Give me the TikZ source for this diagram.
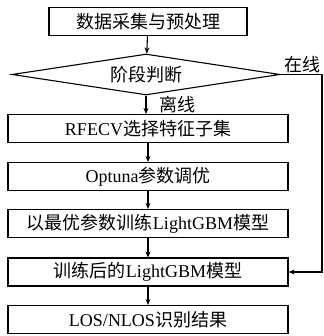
\documentclass[tikz,border=0pt]{standalone}
\usepackage{fontspec}
\setmainfont{Liberation Serif}
\newfontfamily\cjk{Noto Sans CJK SC}
\newcommand{\zh}[1]{{\cjk #1}}
\usetikzlibrary{shapes.geometric, arrows.meta}

\begin{document}
\begin{tikzpicture}[x=1pt, y=1pt,
  every node/.style={font=\fontsize{18}{20}\selectfont},
  stage/.style={rectangle, draw, line width=1.1pt, minimum height=28pt, inner sep=0pt},
  decide/.style={diamond, draw, line width=1.1pt, aspect=6.5, minimum width=268pt, minimum height=41pt, inner sep=0pt},
  arrow/.style={-{Stealth[length=6pt, width=5pt]}, line width=1.1pt}
]
  \useasboundingbox (0,0) rectangle (323,-336);

  \node[stage, minimum width=198pt] (data) at (148,-21.5) {\zh{数据采集与预处理}};
  \node[decide] (phase) at (146,-74.5) {\zh{阶段判断}};
  \node[stage, minimum width=280pt] (rfecv) at (148,-128.5) {RFECV\zh{选择特征子集}};
  \node[stage, minimum width=280pt] (optuna) at (148,-176.5) {Optuna\zh{参数调优}};
  \node[stage, minimum width=280pt] (train) at (148,-223.5) {\zh{以最优参数训练}LightGBM\zh{模型}};
  \node[stage, minimum width=280pt] (model) at (148,-272) {\zh{训练后的}LightGBM\zh{模型}};
  \node[stage, minimum width=280pt] (result) at (148,-319.5) {LOS/NLOS\zh{识别结果}};
  \coordinate (online) at (322,-74.5);

  \node[anchor=south east, inner sep=1pt] (onlab) at (online) {\zh{在线}};
  \node[anchor=west, inner sep=1pt] (offlab) at (158,-104.5) {\zh{离线}};

  \draw[arrow] (data) -- (phase);
  \draw[arrow] (phase.south) -- (phase.south |- rfecv.north);
  \draw[arrow] (rfecv) -- (optuna);
  \draw[arrow] (optuna) -- (train);
  \draw[arrow] (train) -- (model);
  \draw[arrow] (model) -- (result);
  \draw[arrow] (phase.east) -- (online) |- (model.east);
\end{tikzpicture}
\end{document}
